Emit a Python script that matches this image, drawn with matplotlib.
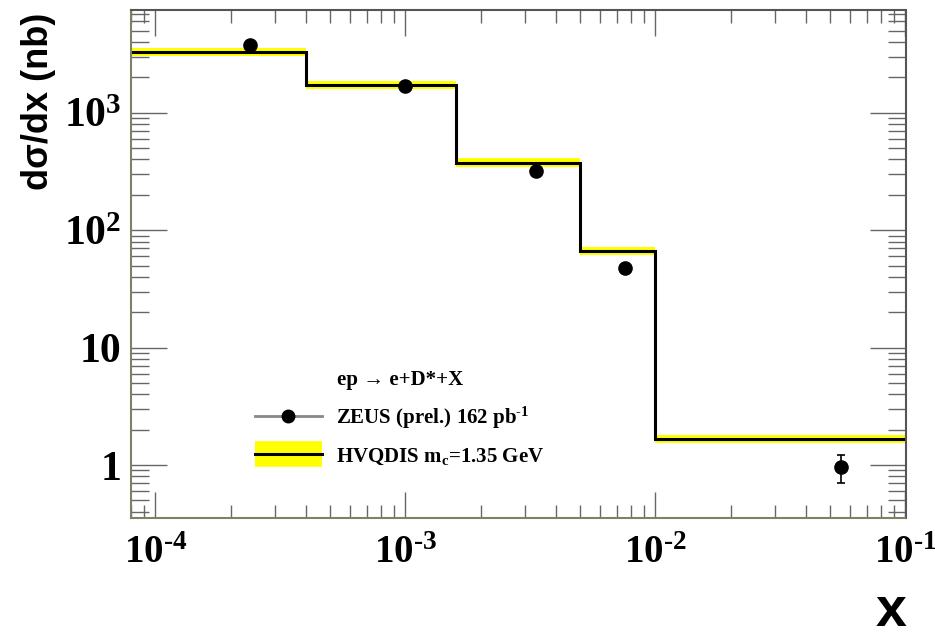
import matplotlib
matplotlib.use("Agg")
import matplotlib.pyplot as plt
from matplotlib.lines import Line2D
from matplotlib.legend_handler import HandlerTuple
import numpy as np

# ---- data ----
bin_edges = [8e-5, 4e-4, 1.6e-3, 5e-3, 1e-2, 1e-1]
theory = [3300, 1720, 376, 66.4, 1.66]          # HVQDIS central
theory_lo = [3060, 1580, 345, 61.0, 1.53]       # band lower
theory_hi = [3560, 1870, 408, 72.0, 1.80]       # band upper

data_x = [2.4e-4, 1.0e-3, 3.33e-3, 7.54e-3, 5.53e-2]
data_y = [3780, 1680, 318, 47.3, 0.955]
data_err_lo = [120, 60, 14, 2.5, 0.245]
data_err_hi = [120, 60, 14, 2.5, 0.265]

HY = "\u2010"
xticks = [1e-4, 1e-3, 1e-2, 1e-1]
xticklabels = [r"$10^{%s4}$" % HY, r"$10^{%s3}$" % HY, r"$10^{%s2}$" % HY, r"$10^{%s1}$" % HY]
yticks = [1, 10, 100, 1000]
yticklabels = ["1", "10", r"$10^{2}$", r"$10^{3}$"]

plt.rcParams['mathtext.fontset'] = 'custom'
plt.rcParams['mathtext.rm'] = 'Liberation Serif:bold'
plt.rcParams['mathtext.it'] = 'Liberation Serif:bold'
plt.rcParams['mathtext.bf'] = 'Liberation Serif:bold'

W, H = 935, 639
fig = plt.figure(figsize=(W / 100, H / 100), dpi=100)
ax = fig.add_axes([131 / W, 1 - 518 / H, 774.5 / W, 508 / H])

ax.set_xscale('log')
ax.set_yscale('log')
ax.set_xlim(8.0e-5, 1e-1)
ax.set_ylim(0.354, 7500)

# yellow band
ax.stairs(theory_hi, bin_edges, baseline=theory_lo, fill=True,
          color='#ffff00', lw=0, zorder=1)
# black histogram line
ax.stairs(theory, bin_edges, baseline=None, color='black', lw=2.2, zorder=2)

# data points
ax.errorbar(data_x, data_y, yerr=[data_err_lo, data_err_hi], fmt='o',
            color='black', ms=9.5, elinewidth=1.2, capsize=3, capthick=1.2,
            zorder=3)

ax.set_xticks(xticks)
ax.set_xticklabels(xticklabels)
ax.set_yticks(yticks)
ax.set_yticklabels(yticklabels)
ax.xaxis.set_minor_locator(matplotlib.ticker.LogLocator(base=10, subs=np.arange(2, 10)))
ax.yaxis.set_minor_locator(matplotlib.ticker.LogLocator(base=10, subs=np.arange(2, 10)))
ax.xaxis.set_minor_formatter(matplotlib.ticker.NullFormatter())
ax.yaxis.set_minor_formatter(matplotlib.ticker.NullFormatter())

tc = '#666666'
ax.tick_params(which='both', direction='in', top=True, right=True, color=tc, width=1)
ax.tick_params(axis='x', which='major', length=18.7, pad=12, labelsize=28)
ax.tick_params(axis='x', which='minor', length=9.4)
ax.tick_params(axis='y', which='major', length=26, pad=7, labelsize=30)
ax.tick_params(axis='y', which='minor', length=13)
for lab in ax.get_xticklabels() + ax.get_yticklabels():
    lab.set_fontfamily('Liberation Serif')
    lab.set_fontweight('bold')

for s in ['left', 'bottom']:
    ax.spines[s].set_color('#80806a')
    ax.spines[s].set_linewidth(1.5)
for s in ['top', 'right']:
    ax.spines[s].set_color('#555555')
    ax.spines[s].set_linewidth(1.5)

# axis titles
fig.text(39 / W, 1 - 13 / H, "dσ/dx (nb)", rotation=90, ha='center', va='top',
         fontsize=26, fontweight='bold', family='Liberation Sans')
fig.text(906 / W, 1 - 638 / H, "x", ha='right', va='bottom',
         fontsize=40, fontweight='bold', family='Liberation Sans')

# legend
ax.text(0.266, 0.272, "ep \u2192 e+D*+X", transform=ax.transAxes,
        ha='left', va='center', fontsize=15, family='Liberation Serif',
        fontweight='bold')
h_data = Line2D([], [], color='#888888', lw=2, marker='o', mfc='black',
                mec='black', ms=9)
h_band = Line2D([], [], color='#ffff00', lw=18.5, solid_capstyle='butt')
h_line = Line2D([], [], color='black', lw=2.2)
leg = ax.legend([h_data, (h_band, h_line)],
                [r"ZEUS (prel.) 162 pb$^{%s1}$" % HY, r"HVQDIS m$_{\mathrm{c}}$=1.35 GeV"],
                handler_map={tuple: HandlerTuple(ndivide=1, pad=0)},
                loc='upper left', bbox_to_anchor=(0.160, 0.223),
                frameon=False, borderpad=0, borderaxespad=0,
                handlelength=3.2, handletextpad=0.7, labelspacing=0.75,
                numpoints=1, prop={'family': 'Liberation Serif', 'weight': 'bold', 'size': 15})

fig.savefig("out.png", dpi=100)
